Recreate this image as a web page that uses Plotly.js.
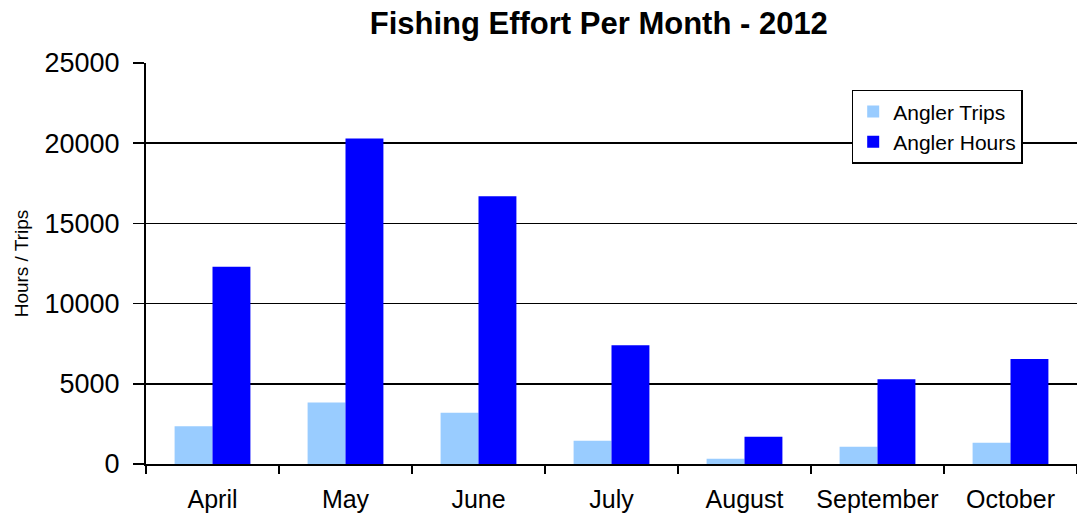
<!DOCTYPE html>
<html>
<head>
<meta charset="utf-8">
<script src="https://cdn.plot.ly/plotly-3.0.1.min.js"></script>
<style>html,body{margin:0;padding:0;background:#fff;}#chart{width:1077px;height:516px;}</style>
</head>
<body>
<div id="chart"></div>
<script>
const months = ["April", "May", "June", "July", "August", "September", "October"];
const anglerTrips = [2350, 3830, 3200, 1450, 330, 1070, 1320];
const anglerHours = [12300, 20300, 16700, 7400, 1700, 5280, 6540];
const yTicks = [0, 5000, 10000, 15000, 20000, 25000];

const font = "Liberation Sans, Arial, sans-serif";

const data = [
  {type: "bar", name: "Angler Trips", x: months, y: anglerTrips,
   marker: {color: "#99CCFF"}, legendgroup: "a"},
  {type: "bar", name: "Angler Hours", x: months, y: anglerHours,
   marker: {color: "#0000FF"}, legendgroup: "b"}
];

const layout = {
  width: 1077, height: 516,
  margin: {l: 146, r: 0, t: 63, b: 52},
  paper_bgcolor: "#fff", plot_bgcolor: "#fff",
  font: {family: font, color: "#000"},
  barmode: "group",
  bargap: 0.43,
  bargroupgap: 0,
  title: {text: "<b>Fishing Effort Per Month - 2012</b>", font: {size: 31, family: font, color: "#000"},
          x: 0.556, xref: "container", xanchor: "center", y: 0.956, yref: "container", yanchor: "middle"},
  xaxis: {
    type: "category",
    showline: true, linecolor: "#000", linewidth: 2,
    ticks: "outside", tickson: "boundaries", ticklen: 8, tickcolor: "#000", tickwidth: 1.5,
    tickfont: {size: 25, family: font, color: "#000"},
    ticklabelstandoff: 12,
    showgrid: false, zeroline: false, fixedrange: true
  },
  yaxis: {
    range: [0, 25000], tickvals: yTicks, ticktext: yTicks.map(String),
    showline: true, linecolor: "#000", linewidth: 2,
    ticks: "outside", ticklen: 11, tickcolor: "#000", tickwidth: 1.5,
    tickfont: {size: 27, family: font, color: "#000"},
    ticklabelstandoff: 8,
    showgrid: true, gridcolor: "#000", gridwidth: 1.5,
    zeroline: false,
    title: {text: "Hours / Trips", font: {size: 19, family: font, color: "#000"}, standoff: 11}
  },
  legend: {
    x: 0.758, y: 0.933, xanchor: "left", yanchor: "top",
    bgcolor: "#fff", bordercolor: "#000", borderwidth: 1.5,
    font: {size: 21, family: font, color: "#000"},
    tracegroupgap: 8, traceorder: "normal"
  },
  showlegend: true
};

Plotly.newPlot("chart", data, layout, {displayModeBar: false, staticPlot: true});
</script>
</body>
</html>
